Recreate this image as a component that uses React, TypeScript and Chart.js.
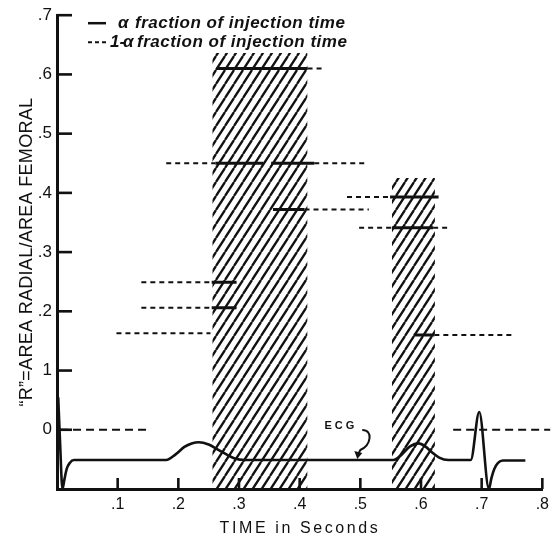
import React, { useEffect, useRef } from "react";
import { Chart, registerables } from "chart.js";

Chart.register(...registerables);

// ---------- axes ----------
const timeTicks = [0.1, 0.2, 0.3, 0.4, 0.5, 0.6, 0.7, 0.8];
const xTickLabels = [".1", ".2", ".3", ".4", ".5", ".6", ".7", ".8"];
const ratioTicks = [0, 0.1, 0.2, 0.3, 0.4, 0.5, 0.6, 0.7];
const yTickLabels = ["0", "1", ".2", ".3", ".4", ".5", ".6", ".7"];

// ---------- α fraction of injection time (solid) ----------
const alphaR = [0.61, 0.45, 0.45, 0.372, 0.393, 0.341, 0.16, 0.249, 0.206];
const alphaStart = [0.263, 0.261, 0.353, 0.356, 0.549, 0.552, 0.588, 0.255, 0.255];
const alphaEnd = [0.413, 0.34, 0.424, 0.408, 0.629, 0.62, 0.622, 0.296, 0.296];

// ---------- 1-α fraction of injection time (dashed) ----------
const compR = [0.61, 0.45, 0.45, 0.372, 0.393, 0.341, 0.341, 0.16, 0.249, 0.206, 0.163];
const compStart = [0.413, 0.18, 0.424, 0.408, 0.478, 0.498, 0.62, 0.622, 0.139, 0.139, 0.098];
const compEnd = [0.442, 0.261, 0.508, 0.514, 0.549, 0.552, 0.645, 0.753, 0.255, 0.255, 0.253];

// ---------- zero reference dashes ----------
const zeroStart = [0.005, 0.653];
const zeroEnd = [0.147, 0.813];

// ---------- hatched injection periods ----------
const injStart = [0.256, 0.552];
const injEnd = [0.413, 0.623];
const injTop = [0.636, 0.425];
const axisFloor = -0.1;

// ---------- ECG trace ----------
const ecgTime = [
  0.002, 0.005, 0.009, 0.012, 0.016, 0.021, 0.028, 0.18, 0.195, 0.21, 0.222, 0.234,
  0.25, 0.266, 0.28, 0.292, 0.31, 0.555, 0.568, 0.582, 0.596, 0.607, 0.618, 0.63,
  0.645, 0.682, 0.696, 0.712, 0.716, 0.721, 0.727, 0.735, 0.772,
];
const ecgValue = [
  0.055, -0.02, -0.1, -0.085, -0.066, -0.056, -0.051, -0.051, -0.042, -0.029, -0.023, -0.021,
  -0.025, -0.034, -0.042, -0.048, -0.051, -0.051, -0.042, -0.028, -0.023, -0.028, -0.038, -0.047,
  -0.051, -0.051, 0.03, -0.1, -0.082, -0.066, -0.056, -0.052, -0.052,
];
const ecgLabel = "ECG";
const ecgLabelAt = { x: 0.441, y: 0.006 };
const ecgArrowTarget = { x: 0.495, y: -0.051 };

const FONT = '"Liberation Sans", Arial, sans-serif';
const INK = "#111";

function makeHatch(): CanvasPattern | string {
  const w = 9;
  const h = 14;
  const c = document.createElement("canvas");
  c.width = w;
  c.height = h;
  const g = c.getContext("2d");
  if (!g) return "rgba(0,0,0,0.3)";
  g.strokeStyle = INK;
  g.lineWidth = 2.3;
  g.beginPath();
  for (const k of [-1, 0, 1]) {
    g.moveTo(k * w, h);
    g.lineTo(k * w + w, 0);
  }
  g.stroke();
  return g.createPattern(c, "repeat") || "rgba(0,0,0,0.3)";
}

const decorPlugin = {
  id: "decor",
  beforeDraw(chart: any) {
    const ctx = chart.ctx;
    ctx.save();
    ctx.fillStyle = "#fff";
    ctx.fillRect(0, 0, chart.width, chart.height);
    ctx.restore();
  },
  afterDraw(chart: any) {
    const ctx: CanvasRenderingContext2D = chart.ctx;
    const xs = chart.scales.x;
    const ys = chart.scales.y;
    const area = chart.chartArea;
    ctx.save();
    ctx.strokeStyle = INK;
    ctx.fillStyle = INK;
    ctx.lineCap = "butt";
    // inward ticks
    ctx.lineWidth = 2.6;
    ratioTicks.forEach((v) => {
      const y = ys.getPixelForValue(v);
      ctx.beginPath();
      ctx.moveTo(area.left, y);
      ctx.lineTo(area.left + 15, y);
      ctx.stroke();
    });
    timeTicks.forEach((v) => {
      const x = xs.getPixelForValue(v);
      ctx.beginPath();
      ctx.moveTo(x, area.bottom);
      ctx.lineTo(x, area.bottom - 11);
      ctx.stroke();
    });

    // axis titles
    ctx.textAlign = "center";
    ctx.textBaseline = "middle";
    ctx.font = `18px ${FONT}`;
    (ctx as any).letterSpacing = "0.3px";
    ctx.save();
    ctx.translate(27, (area.top + area.bottom) / 2);
    ctx.rotate(-Math.PI / 2);
    ctx.fillText("\u201CR\u201D=AREA RADIAL/AREA FEMORAL", 0, 0);
    ctx.restore();

    ctx.font = `16px ${FONT}`;
    (ctx as any).letterSpacing = "2.6px";
    ctx.fillText("TIME in Seconds", 300, 529);

    // legend
    (ctx as any).letterSpacing = "0.5px";
    ctx.textAlign = "left";
    ctx.font = `italic bold 17px ${FONT}`;
    const lx = area.left + 31;
    const l1 = area.top + 8;
    const l2 = area.top + 27;
    ctx.lineWidth = 2.5;
    ctx.beginPath();
    ctx.moveTo(lx, l1);
    ctx.lineTo(lx + 18, l1);
    ctx.stroke();
    ctx.fillText("\u03B1", lx + 30, l1);
    ctx.fillText("fraction of injection time", lx + 47, l1);
    ctx.lineWidth = 2;
    ctx.setLineDash([4, 3]);
    ctx.beginPath();
    ctx.moveTo(lx, l2);
    ctx.lineTo(lx + 20, l2);
    ctx.stroke();
    ctx.setLineDash([]);
    (ctx as any).letterSpacing = "0px";
    ctx.fillText("1-", lx + 22, l2);
    ctx.fillText("\u03B1", lx + 35, l2);
    (ctx as any).letterSpacing = "0.5px";
    ctx.fillText("fraction of injection time", lx + 49, l2);

    // ECG label + curly arrow
    ctx.font = `bold 11px ${FONT}`;
    (ctx as any).letterSpacing = "3px";
    const ex = xs.getPixelForValue(ecgLabelAt.x);
    const ey = ys.getPixelForValue(ecgLabelAt.y);
    ctx.fillText(ecgLabel, ex, ey);
    const tx = xs.getPixelForValue(ecgArrowTarget.x);
    const ty = ys.getPixelForValue(ecgArrowTarget.y);
    ctx.lineWidth = 2;
    ctx.beginPath();
    ctx.moveTo(tx + 5, ty - 30);
    ctx.bezierCurveTo(tx + 16, ty - 30, tx + 14, ty - 15, tx + 3, ty - 10);
    ctx.lineTo(tx + 1, ty - 6);
    ctx.stroke();
    ctx.beginPath();
    ctx.moveTo(tx - 3, ty - 9);
    ctx.lineTo(tx + 5, ty - 7);
    ctx.lineTo(tx, ty - 1);
    ctx.closePath();
    ctx.fill();
    ctx.restore();
  },
};

export default function App() {
  const ref = useRef<HTMLCanvasElement | null>(null);

  useEffect(() => {
    if (!ref.current) return;
    const hatch = makeHatch();

    const hatchSets = injStart.map((s, i) => ({
      label: `injection ${i + 1}`,
      data: [
        { x: s, y: injTop[i] },
        { x: injEnd[i], y: injTop[i] },
      ],
      borderWidth: 0,
      borderColor: "rgba(0,0,0,0)",
      backgroundColor: hatch,
      fill: { value: axisFloor },
      pointRadius: 0,
      order: 10,
    }));

    const solidSets = alphaR.map((r, i) => ({
      label: `alpha ${i + 1}`,
      data: [
        { x: alphaStart[i], y: r },
        { x: alphaEnd[i], y: r },
      ],
      borderColor: INK,
      borderWidth: 3,
      pointRadius: 0,
      fill: false,
      order: 1,
    }));

    const dashedSets = compR.map((r, i) => ({
      label: `one minus alpha ${i + 1}`,
      data: [
        { x: compStart[i], y: r },
        { x: compEnd[i], y: r },
      ],
      borderColor: INK,
      borderWidth: 2,
      borderDash: [5, 4],
      pointRadius: 0,
      fill: false,
      order: 2,
    }));

    const zeroSets = zeroStart.map((s, i) => ({
      label: `zero ${i + 1}`,
      data: [
        { x: s, y: 0 },
        { x: zeroEnd[i], y: 0 },
      ],
      borderColor: INK,
      borderWidth: 2,
      borderDash: [8, 5],
      pointRadius: 0,
      fill: false,
      clip: false as any,
      order: 2,
    }));

    const ecgSet = {
      label: "ECG",
      data: ecgTime.map((t, i) => ({ x: t, y: ecgValue[i] })),
      borderColor: INK,
      borderWidth: 2.6,
      pointRadius: 0,
      fill: false,
      cubicInterpolationMode: "monotone" as const,
      order: 0,
    };

    const chart = new Chart(ref.current, {
      type: "line",
      data: { datasets: [...hatchSets, ...solidSets, ...dashedSets, ...zeroSets, ecgSet] as any },
      options: {
        animation: false,
        responsive: false,
        layout: { padding: { top: 15, right: 8, left: 0, bottom: 0 } },
        plugins: { legend: { display: false }, tooltip: { enabled: false } },
        scales: {
          x: {
            type: "linear",
            min: 0,
            max: 0.8,
            ticks: {
              stepSize: 0.1,
              color: INK,
              padding: 6,
              font: { family: FONT, size: 16 },
              callback: (v: any) => {
                const i = timeTicks.findIndex((t) => Math.abs(t - Number(v)) < 1e-6);
                return i >= 0 ? xTickLabels[i] : "";
              },
            },
            grid: { display: true, drawOnChartArea: false, drawTicks: false },
            border: { display: true, color: INK, width: 3 },
            afterFit: (s: any) => {
              s.height = 53;
            },
          },
          y: {
            type: "linear",
            min: axisFloor,
            max: 0.7,
            ticks: {
              stepSize: 0.1,
              color: INK,
              padding: 5,
              font: { family: FONT, size: 17 },
              callback: (v: any) => {
                const i = ratioTicks.findIndex((t) => Math.abs(t - Number(v)) < 1e-6);
                return i >= 0 ? yTickLabels[i] : "";
              },
            },
            grid: { display: true, drawOnChartArea: false, drawTicks: false },
            border: { display: true, color: INK, width: 3 },
            afterFit: (s: any) => {
              s.width = 57;
            },
          },
        },
      },
      plugins: [decorPlugin],
    });
    return () => chart.destroy();
  }, []);

  return (
    <div style={{ position: "absolute", left: 0, top: 0, width: 555, height: 542 }}>
      <canvas ref={ref} width={555} height={542} style={{ display: "block" }} />
    </div>
  );
}
